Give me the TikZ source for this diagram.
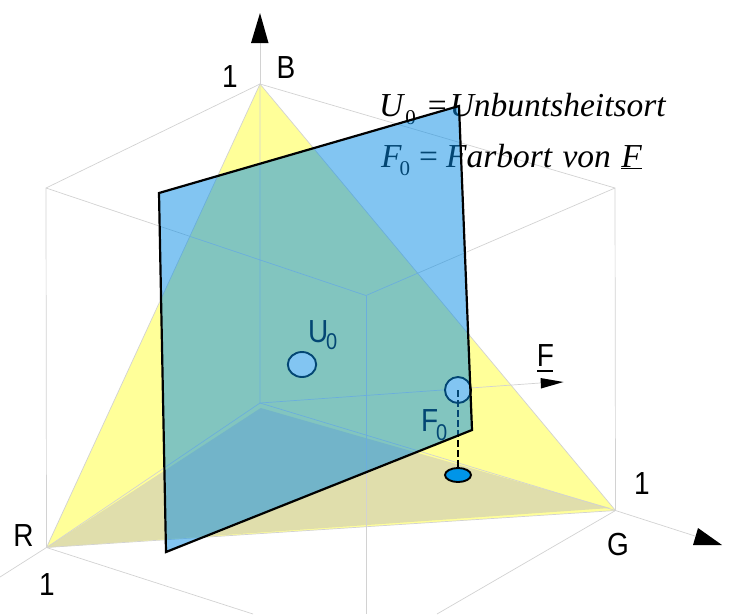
\documentclass[tikz,border=0pt]{standalone}
\usepackage{fontspec}
\setmainfont{Liberation Serif}
\setsansfont{Liberation Sans}
\definecolor{yellowface}{HTML}{FFFF99}
\definecolor{olivetone}{HTML}{E0DEAC}
\definecolor{gridgray}{HTML}{D2D2D2}
\definecolor{planeblue}{HTML}{068CE6}
\definecolor{pointblue}{HTML}{0095E8}
\tikzset{
  gridline/.style={draw=gridgray,line width=0.7pt},
  head/.style={fill=black,draw=none},
  lab/.style={font=\sffamily\fontsize{28}{28}\selectfont,inner sep=0pt,yscale=1.14},
  labzero/.style={font=\sffamily\fontsize{20}{20}\selectfont,inner sep=0pt,yscale=1.14},
  formula/.style={font=\rmfamily\itshape\fontsize{33.5}{33.5}\selectfont,inner sep=0pt,anchor=base west},
  marker/.style={draw=black,line width=1.9pt},
  plane/.style={fill=planeblue,fill opacity=0.5,draw=black,draw opacity=1,line width=2.2pt,line join=miter}
}
\newcommand{\subz}{\raisebox{-8pt}{\upshape\fontsize{21}{21}\selectfont 0}}
\begin{document}
\begin{tikzpicture}[x=1pt,y=-1pt]
\useasboundingbox (0,0) rectangle (735,614);
\coordinate (O) at (260,403);
\coordinate (B) at (260,84);
\coordinate (R) at (46.5,547.5);
\coordinate (G) at (615.5,510.5);
\coordinate (RB) at (46,188);
\coordinate (GB) at (615,188);
\coordinate (C) at (366,295.5);
\coordinate (Fp) at (458,390);
\coordinate (Fb) at (458,475);
\coordinate (Up) at (302,364.5);
% faces
\fill[yellowface] (R) -- (G) -- (B) -- cycle;
\fill[olivetone] (R) -- (610,508) -- (260.7,408) -- cycle;
% cube lines
\draw[gridline] (R) -- (G) -- (B) -- cycle;
\draw[gridline] (O) -- (B) -- (RB) -- (R) (B) -- (GB) -- (G) (RB) -- (C) -- (GB);
\draw[gridline] (O) -- (R) -- (0,577);
\draw[gridline] (O) -- (G) -- (695,536);
\draw[gridline] (B) -- (260,43);
\draw[gridline] (R) -- (253,614);
\draw[gridline] (G) -- (437,614);
\draw[gridline] (C) -- (366,614);
\draw[gridline] (O) -- (540,383);
% arrowheads
\fill[head] (260,13) -- (268.5,43) -- (251,43) -- cycle;
\fill[head] (722,545) -- (698,528) -- (693,545) -- cycle;
\fill[head] (563.5,382) -- (540.5,378) -- (541,388.5) -- cycle;
% labels
\node[lab] (lb) at (286,68) {B};
\node[lab] (lb1) at (230,76.5) {1};
\node[lab] (lr) at (23.5,536) {R};
\node[lab] (lr1) at (47,585) {1};
\node[lab] (lg) at (618,544) {G};
\node[lab] (lg1) at (642,484) {1};
\node[lab] (lf) at (545.5,356) {F};
\fill (537,369.8) rectangle (553,372.2);
\node[lab,anchor=base west] (lu0) at (308,342) {U};
\node[labzero,anchor=base west] (lu0s) at (326,349) {0};
\node[lab,anchor=base west] (lf0) at (421,431) {F};
\node[labzero,anchor=base west] (lf0s) at (436,440) {0};
% formulae
\node[formula] (f1) at (379,116) {U\hspace{2pt}\subz\hspace{12pt}{\upshape =}\hspace{3pt}Unbuntsheitsort};
\node[formula] (f2) at (381,167) {F\hspace{-2pt}\subz\hspace{9pt}{\upshape =}\hspace{8pt}Farbort\hspace{2pt} von\hspace{2pt} \underline{F}};
% points
\draw[marker,fill=white] (Up) ellipse [x radius=14.2,y radius=12.5];
\draw[marker,fill=white] (Fp) circle [radius=13];
\draw[black,line width=1.4pt,dash pattern=on 6.5pt off 3.5pt] (Fp) -- (458,468);
\draw[marker,fill=pointblue] (Fb) ellipse [x radius=13,y radius=7];
% plane
\path[plane] (159,193) -- (459,106) -- (472,430) -- (166,552) -- cycle;
\end{tikzpicture}
\end{document}
